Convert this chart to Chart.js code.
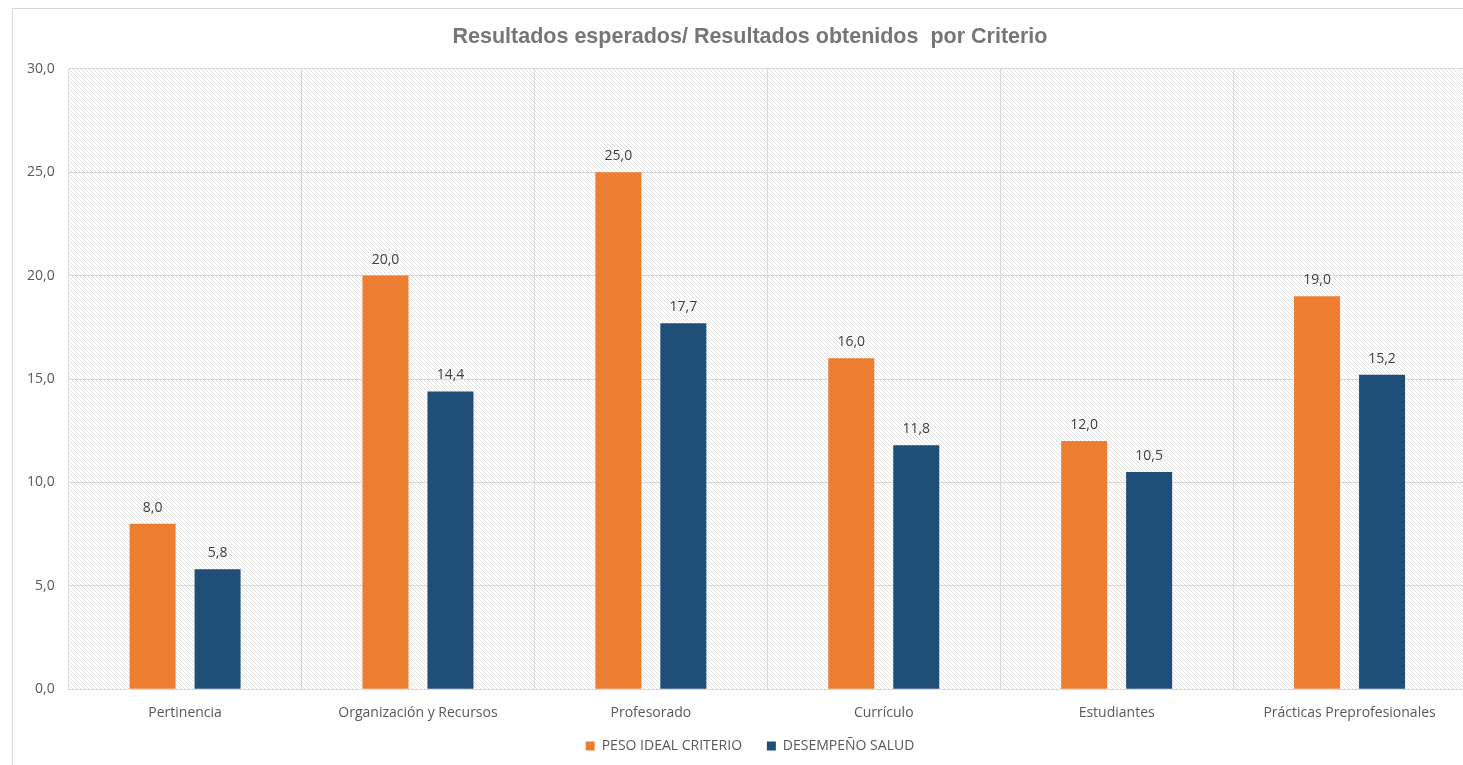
<!DOCTYPE html>
<html lang="es">
<head>
<meta charset="UTF-8" />
<title>Resultados por Criterio</title>
<script src="https://cdn.jsdelivr.net/npm/chart.js"></script>
<style>
  body {
    margin: 0;
    background: #fff;
    overflow: hidden;
  }
  #wrap {
    position: relative;
    width: 1463px;
    height: 765px;
    overflow: hidden;
  }
  canvas {
    position: absolute;
    left: 0;
    top: 0;
  }
</style>
</head>
<body>

<div id="wrap">
  <canvas id="criterioChart" width="1500" height="765"></canvas>
</div>

<script>
  const categories = ['Pertinencia', 'Organización y Recursos', 'Profesorado', 'Currículo', 'Estudiantes', 'Prácticas Preprofesionales'];
  const pesoIdeal = [8.0, 20.0, 25.0, 16.0, 12.0, 19.0];
  const desempenoSalud = [5.8, 14.4, 17.7, 11.8, 10.5, 15.2];
  const yTicks = [0, 5, 10, 15, 20, 25, 30];

  const fmt = v => v.toFixed(1).replace('.', ',');
  const textFont = '"Open Sans", "Noto Sans", sans-serif';

  // diagonal hatch used by Excel for the plot area
  function makeHatch() {
    const tile = document.createElement('canvas');
    tile.width = 4;
    tile.height = 4;
    const t = tile.getContext('2d');
    t.fillStyle = '#ffffff';
    t.fillRect(0, 0, 4, 4);
    t.fillStyle = '#e1e1e1';
    for (let i = 0; i < 4; i++) t.fillRect(i, i, 1, 1);
    return tile;
  }

  const plotBackground = {
    id: 'plotBackground',
    beforeDraw(chart) {
      const { ctx, chartArea: a } = chart;
      ctx.save();
      // outer chart frame
      ctx.strokeStyle = '#d9d9d9';
      ctx.lineWidth = 1;
      ctx.strokeRect(12.5, 8.5, chart.width - 20, chart.height + 20);
      ctx.fillStyle = ctx.createPattern(makeHatch(), 'repeat');
      ctx.fillRect(a.left, a.top, a.right - a.left, a.bottom - a.top);
      ctx.restore();
    }
  };

  const valueLabels = {
    id: 'valueLabels',
    afterDatasetsDraw(chart) {
      const { ctx } = chart;
      ctx.save();
      ctx.font = '14px ' + textFont;
      ctx.fillStyle = '#404040';
      ctx.textAlign = 'center';
      ctx.textBaseline = 'bottom';
      chart.data.datasets.forEach((ds, i) => {
        chart.getDatasetMeta(i).data.forEach((bar, j) => {
          ctx.fillText(fmt(ds.data[j]), bar.x, bar.y - 9);
        });
      });
      ctx.restore();
    }
  };

  new Chart(document.getElementById('criterioChart'), {
    type: 'bar',
    data: {
      labels: categories,
      datasets: [
        {
          label: 'PESO IDEAL CRITERIO      ',
          data: pesoIdeal,
          backgroundColor: '#ED7D31',
          categoryPercentage: 0.558,
          barPercentage: 0.708
        },
        {
          label: 'DESEMPEÑO SALUD',
          data: desempenoSalud,
          backgroundColor: '#1F4E79',
          categoryPercentage: 0.558,
          barPercentage: 0.708
        }
      ]
    },
    options: {
      responsive: false,
      animation: false,
      layout: {
        padding: { left: 13, right: 13, top: 14, bottom: 2 }
      },
      scales: {
        x: {
          grid: { color: '#d9d9d9', drawTicks: false },
          border: { color: '#d9d9d9' },
          ticks: {
            color: '#595959',
            padding: 15,
            font: { family: textFont, size: 14 }
          }
        },
        y: {
          min: 0,
          max: 30,
          afterBuildTicks(axis) {
            axis.ticks = yTicks.map(v => ({ value: v }));
          },
          grid: { color: '#d9d9d9', drawTicks: false },
          border: { display: false },
          ticks: {
            color: '#595959',
            padding: 14,
            font: { family: textFont, size: 14 },
            callback: v => fmt(v)
          }
        },
        // empty right-hand spacer so title and legend centre like the original
        spacer: {
          position: 'right',
          display: true,
          grid: { display: false },
          border: { display: false },
          ticks: { display: false },
          afterFit(axis) {
            axis.width = 21;
          }
        }
      },
      plugins: {
        title: {
          display: true,
          text: 'Resultados esperados/ Resultados obtenidos  por Criterio',
          color: '#767676',
          font: { family: 'Arial, "Liberation Sans", sans-serif', size: 21.5, weight: 'bold' },
          padding: { top: 10, bottom: 19 }
        },
        legend: {
          position: 'bottom',
          labels: {
            color: '#595959',
            font: { family: textFont, size: 14 },
            boxWidth: 9,
            boxHeight: 9,
            padding: 3
          }
        },
        tooltip: { enabled: false }
      }
    },
    plugins: [plotBackground, valueLabels]
  });
</script>

</body>
</html>
